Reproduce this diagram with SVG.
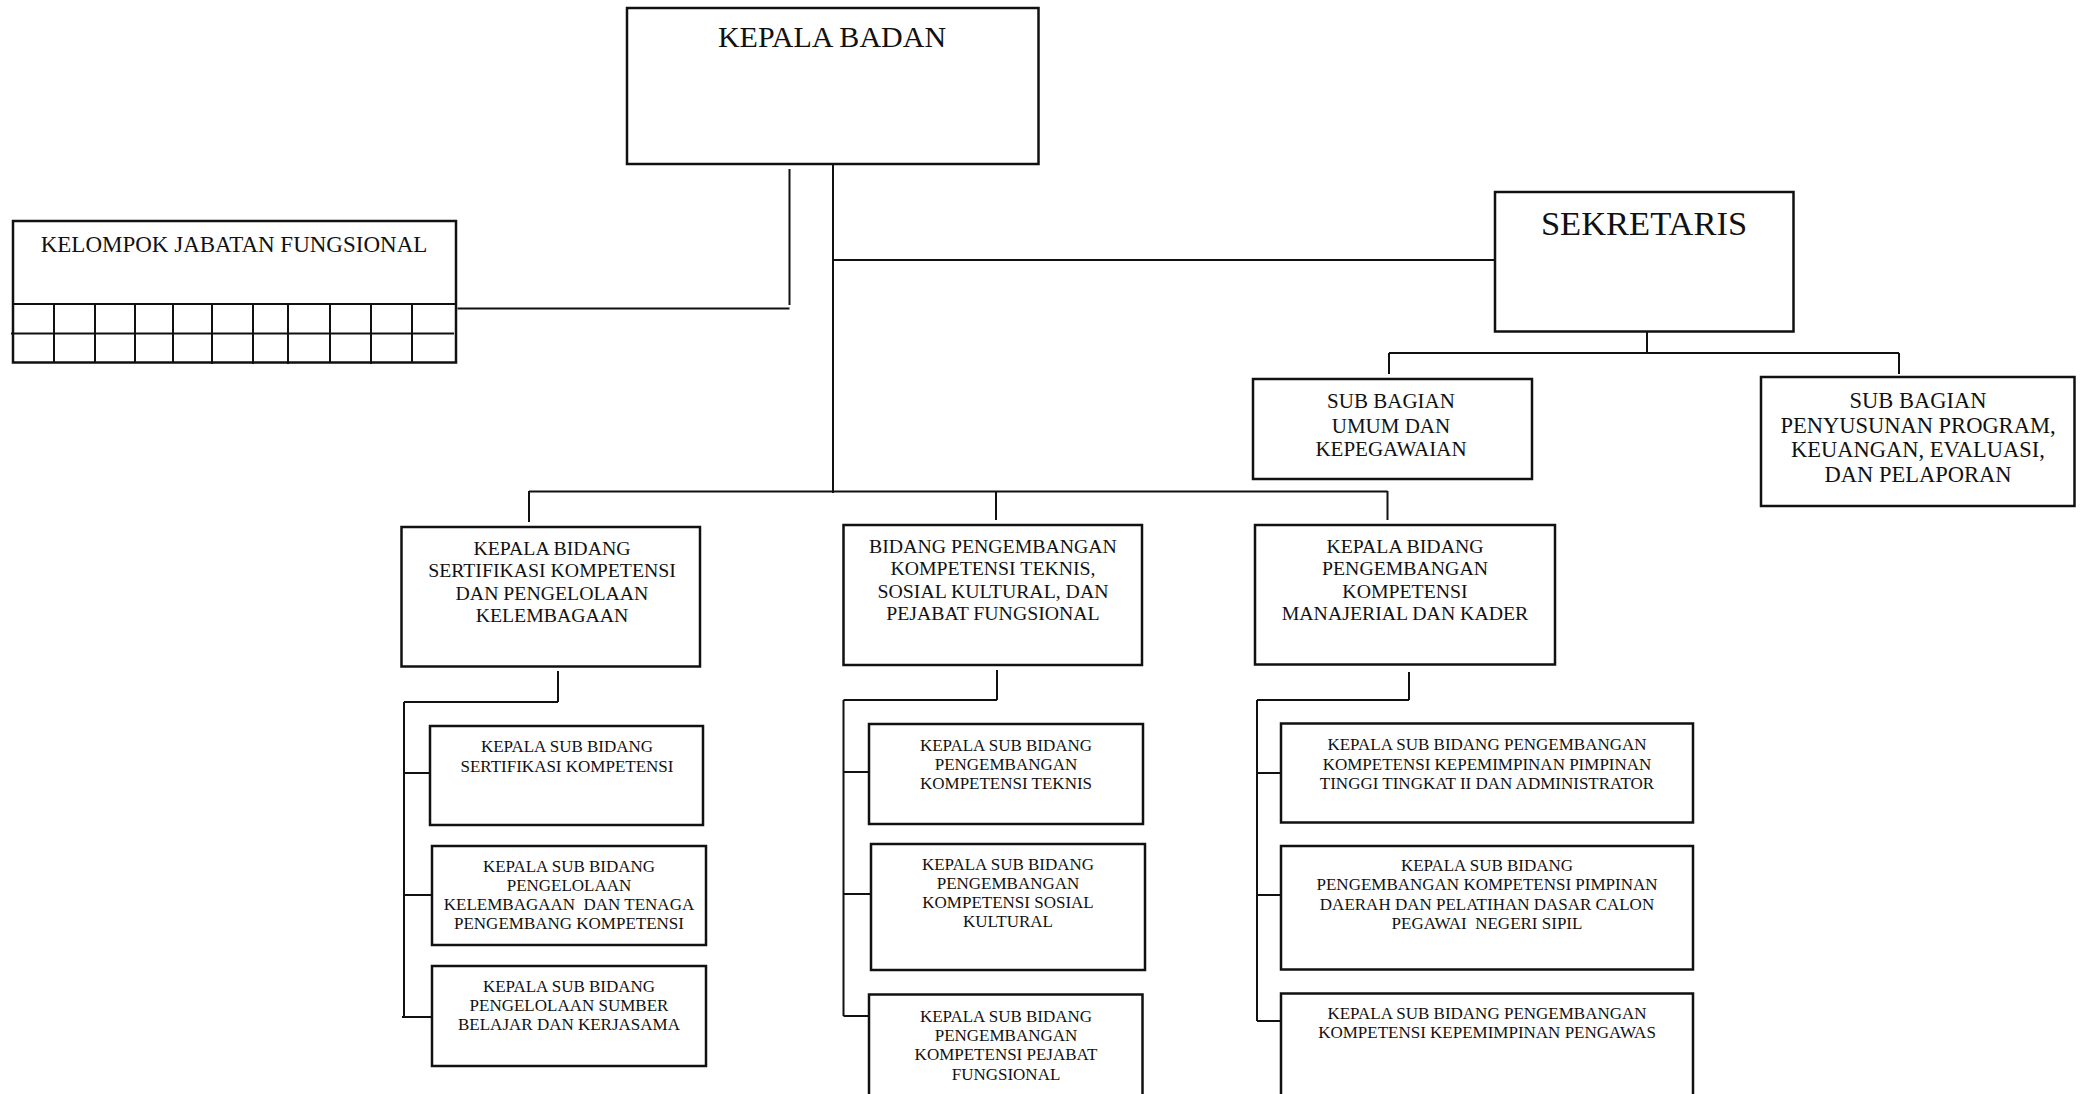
<svg xmlns="http://www.w3.org/2000/svg" width="2086" height="1094" viewBox="0 0 2086 1094">
<style>
.box{fill:#fff;stroke:#111;stroke-width:2.5}
.ln{fill:none;stroke:#111;stroke-width:2}
text{font-family:"Liberation Serif","Times New Roman",serif;fill:#111;text-anchor:middle}
.t29{font-size:30px}.t34{font-size:34.5px}.t22{font-size:23px}.t21{font-size:21px}.t225{font-size:22.5px}
.tb{font-size:19.8px}.ts{font-size:17px}
</style>
<rect width="2086" height="1094" fill="#fff"/>
<g id="connectors">
<path class="ln" d="M833 164V493"/>
<path class="ln" d="M833 260H1495"/>
<path class="ln" d="M789.5 169V305M457.5 308.5H789.5"/>
<path class="ln" d="M529 491.5H1387.5M529 491V522M996 491V520M1387.5 491V520"/>
<path class="ln" d="M1647 331V353M1389 353H1899M1389 353V374M1899 353V374"/>
<path class="ln" d="M558 671V702M404 702H558M404 702V1017M404 773H430M404 895H432M402 1017H432"/>
<path class="ln" d="M997 670V700M843.5 700H997M843.5 700V1016M843.5 772H869M843.5 894H871M843.5 1016H869"/>
<path class="ln" d="M1409 672V700M1257 700H1409M1257 700V1021M1257 773H1281M1257 895H1281M1257 1021H1281"/>
</g>
<g id="kepala-badan">
<rect class="box" x="627" y="8" width="411.5" height="156"/>
<text class="t29" x="832" y="47">KEPALA BADAN</text>
</g>
<g id="kelompok-jabatan-fungsional">
<rect class="box" x="13" y="221" width="443" height="141.5"/>
<text class="t22" x="234" y="252">KELOMPOK JABATAN FUNGSIONAL</text>
<path class="ln" d="M13 304H456M11 333.5H454M54 304V362M95 304V362M135 304V362M173 304V362M212 304V364M253 304V364M288 304V364M330 304V362M371 304V364M412 304V362"/>
</g>
<g id="sekretaris">
<rect class="box" x="1495" y="192" width="298.5" height="139.5"/>
<text class="t34" x="1644" y="235">SEKRETARIS</text>
</g>
<g id="subbag-umum">
<rect class="box" x="1253" y="379" width="279" height="100"/>
<text class="t21" x="1391" y="408">SUB BAGIAN</text>
<text class="t21" x="1391" y="433">UMUM DAN</text>
<text class="t21" x="1391" y="456">KEPEGAWAIAN</text>
</g>
<g id="subbag-program">
<rect class="box" x="1761" y="377" width="313.5" height="129"/>
<text class="t225" x="1918" y="408">SUB BAGIAN</text>
<text class="t225" x="1918" y="433">PENYUSUNAN PROGRAM,</text>
<text class="t225" x="1918" y="457">KEUANGAN, EVALUASI,</text>
<text class="t225" x="1918" y="482">DAN PELAPORAN</text>
</g>
<g id="bidang-sertifikasi">
<rect class="box" x="401.5" y="527" width="298.5" height="139.5"/>
<text class="tb" x="552" y="555">KEPALA BIDANG</text>
<text class="tb" x="552" y="577">SERTIFIKASI KOMPETENSI</text>
<text class="tb" x="552" y="600">DAN PENGELOLAAN</text>
<text class="tb" x="552" y="622">KELEMBAGAAN</text>
</g>
<g id="bidang-teknis">
<rect class="box" x="843.5" y="525" width="298.5" height="140"/>
<text class="tb" x="993" y="553">BIDANG PENGEMBANGAN</text>
<text class="tb" x="993" y="575">KOMPETENSI TEKNIS,</text>
<text class="tb" x="993" y="598">SOSIAL KULTURAL, DAN</text>
<text class="tb" x="993" y="620">PEJABAT FUNGSIONAL</text>
</g>
<g id="bidang-manajerial">
<rect class="box" x="1255" y="525" width="300" height="139.5"/>
<text class="tb" x="1405" y="553">KEPALA BIDANG</text>
<text class="tb" x="1405" y="575">PENGEMBANGAN</text>
<text class="tb" x="1405" y="598">KOMPETENSI</text>
<text class="tb" x="1405" y="620">MANAJERIAL DAN KADER</text>
</g>
<g id="sub-sertifikasi">
<rect class="box" x="430" y="726" width="273" height="99"/>
<text class="ts" x="567" y="752">KEPALA SUB BIDANG</text>
<text class="ts" x="567" y="772">SERTIFIKASI KOMPETENSI</text>
</g>
<g id="sub-kelembagaan">
<rect class="box" x="432" y="846" width="274" height="99"/>
<text class="ts" x="569" y="872">KEPALA SUB BIDANG</text>
<text class="ts" x="569" y="891">PENGELOLAAN</text>
<text class="ts" x="569" y="910">KELEMBAGAAN &#160;DAN TENAGA</text>
<text class="ts" x="569" y="929">PENGEMBANG KOMPETENSI</text>
</g>
<g id="sub-sumber-belajar">
<rect class="box" x="432" y="966" width="274" height="100"/>
<text class="ts" x="569" y="992">KEPALA SUB BIDANG</text>
<text class="ts" x="569" y="1011">PENGELOLAAN SUMBER</text>
<text class="ts" x="569" y="1030">BELAJAR DAN KERJASAMA</text>
</g>
<g id="sub-teknis">
<rect class="box" x="869" y="724" width="274" height="100"/>
<text class="ts" x="1006" y="751">KEPALA SUB BIDANG</text>
<text class="ts" x="1006" y="770">PENGEMBANGAN</text>
<text class="ts" x="1006" y="789">KOMPETENSI TEKNIS</text>
</g>
<g id="sub-sosial-kultural">
<rect class="box" x="871" y="844" width="274" height="126"/>
<text class="ts" x="1008" y="870">KEPALA SUB BIDANG</text>
<text class="ts" x="1008" y="889">PENGEMBANGAN</text>
<text class="ts" x="1008" y="908">KOMPETENSI SOSIAL</text>
<text class="ts" x="1008" y="927">KULTURAL</text>
</g>
<g id="sub-pejabat-fungsional">
<rect class="box" x="869" y="994.5" width="273.5" height="110"/>
<text class="ts" x="1006" y="1022">KEPALA SUB BIDANG</text>
<text class="ts" x="1006" y="1041">PENGEMBANGAN</text>
<text class="ts" x="1006" y="1060">KOMPETENSI PEJABAT</text>
<text class="ts" x="1006" y="1080">FUNGSIONAL</text>
</g>
<g id="sub-pimpinan-tinggi">
<rect class="box" x="1281" y="723.5" width="412" height="99"/>
<text class="ts" x="1487" y="750">KEPALA SUB BIDANG PENGEMBANGAN</text>
<text class="ts" x="1487" y="770">KOMPETENSI KEPEMIMPINAN PIMPINAN</text>
<text class="ts" x="1487" y="789">TINGGI TINGKAT II DAN ADMINISTRATOR</text>
</g>
<g id="sub-pimpinan-daerah">
<rect class="box" x="1281" y="846" width="412" height="123.5"/>
<text class="ts" x="1487" y="871">KEPALA SUB BIDANG</text>
<text class="ts" x="1487" y="890">PENGEMBANGAN KOMPETENSI PIMPINAN</text>
<text class="ts" x="1487" y="910">DAERAH DAN PELATIHAN DASAR CALON</text>
<text class="ts" x="1487" y="929">PEGAWAI &#160;NEGERI SIPIL</text>
</g>
<g id="sub-pengawas">
<rect class="box" x="1281" y="993.5" width="412" height="110"/>
<text class="ts" x="1487" y="1019">KEPALA SUB BIDANG PENGEMBANGAN</text>
<text class="ts" x="1487" y="1038">KOMPETENSI KEPEMIMPINAN PENGAWAS</text>
</g>
</svg>
